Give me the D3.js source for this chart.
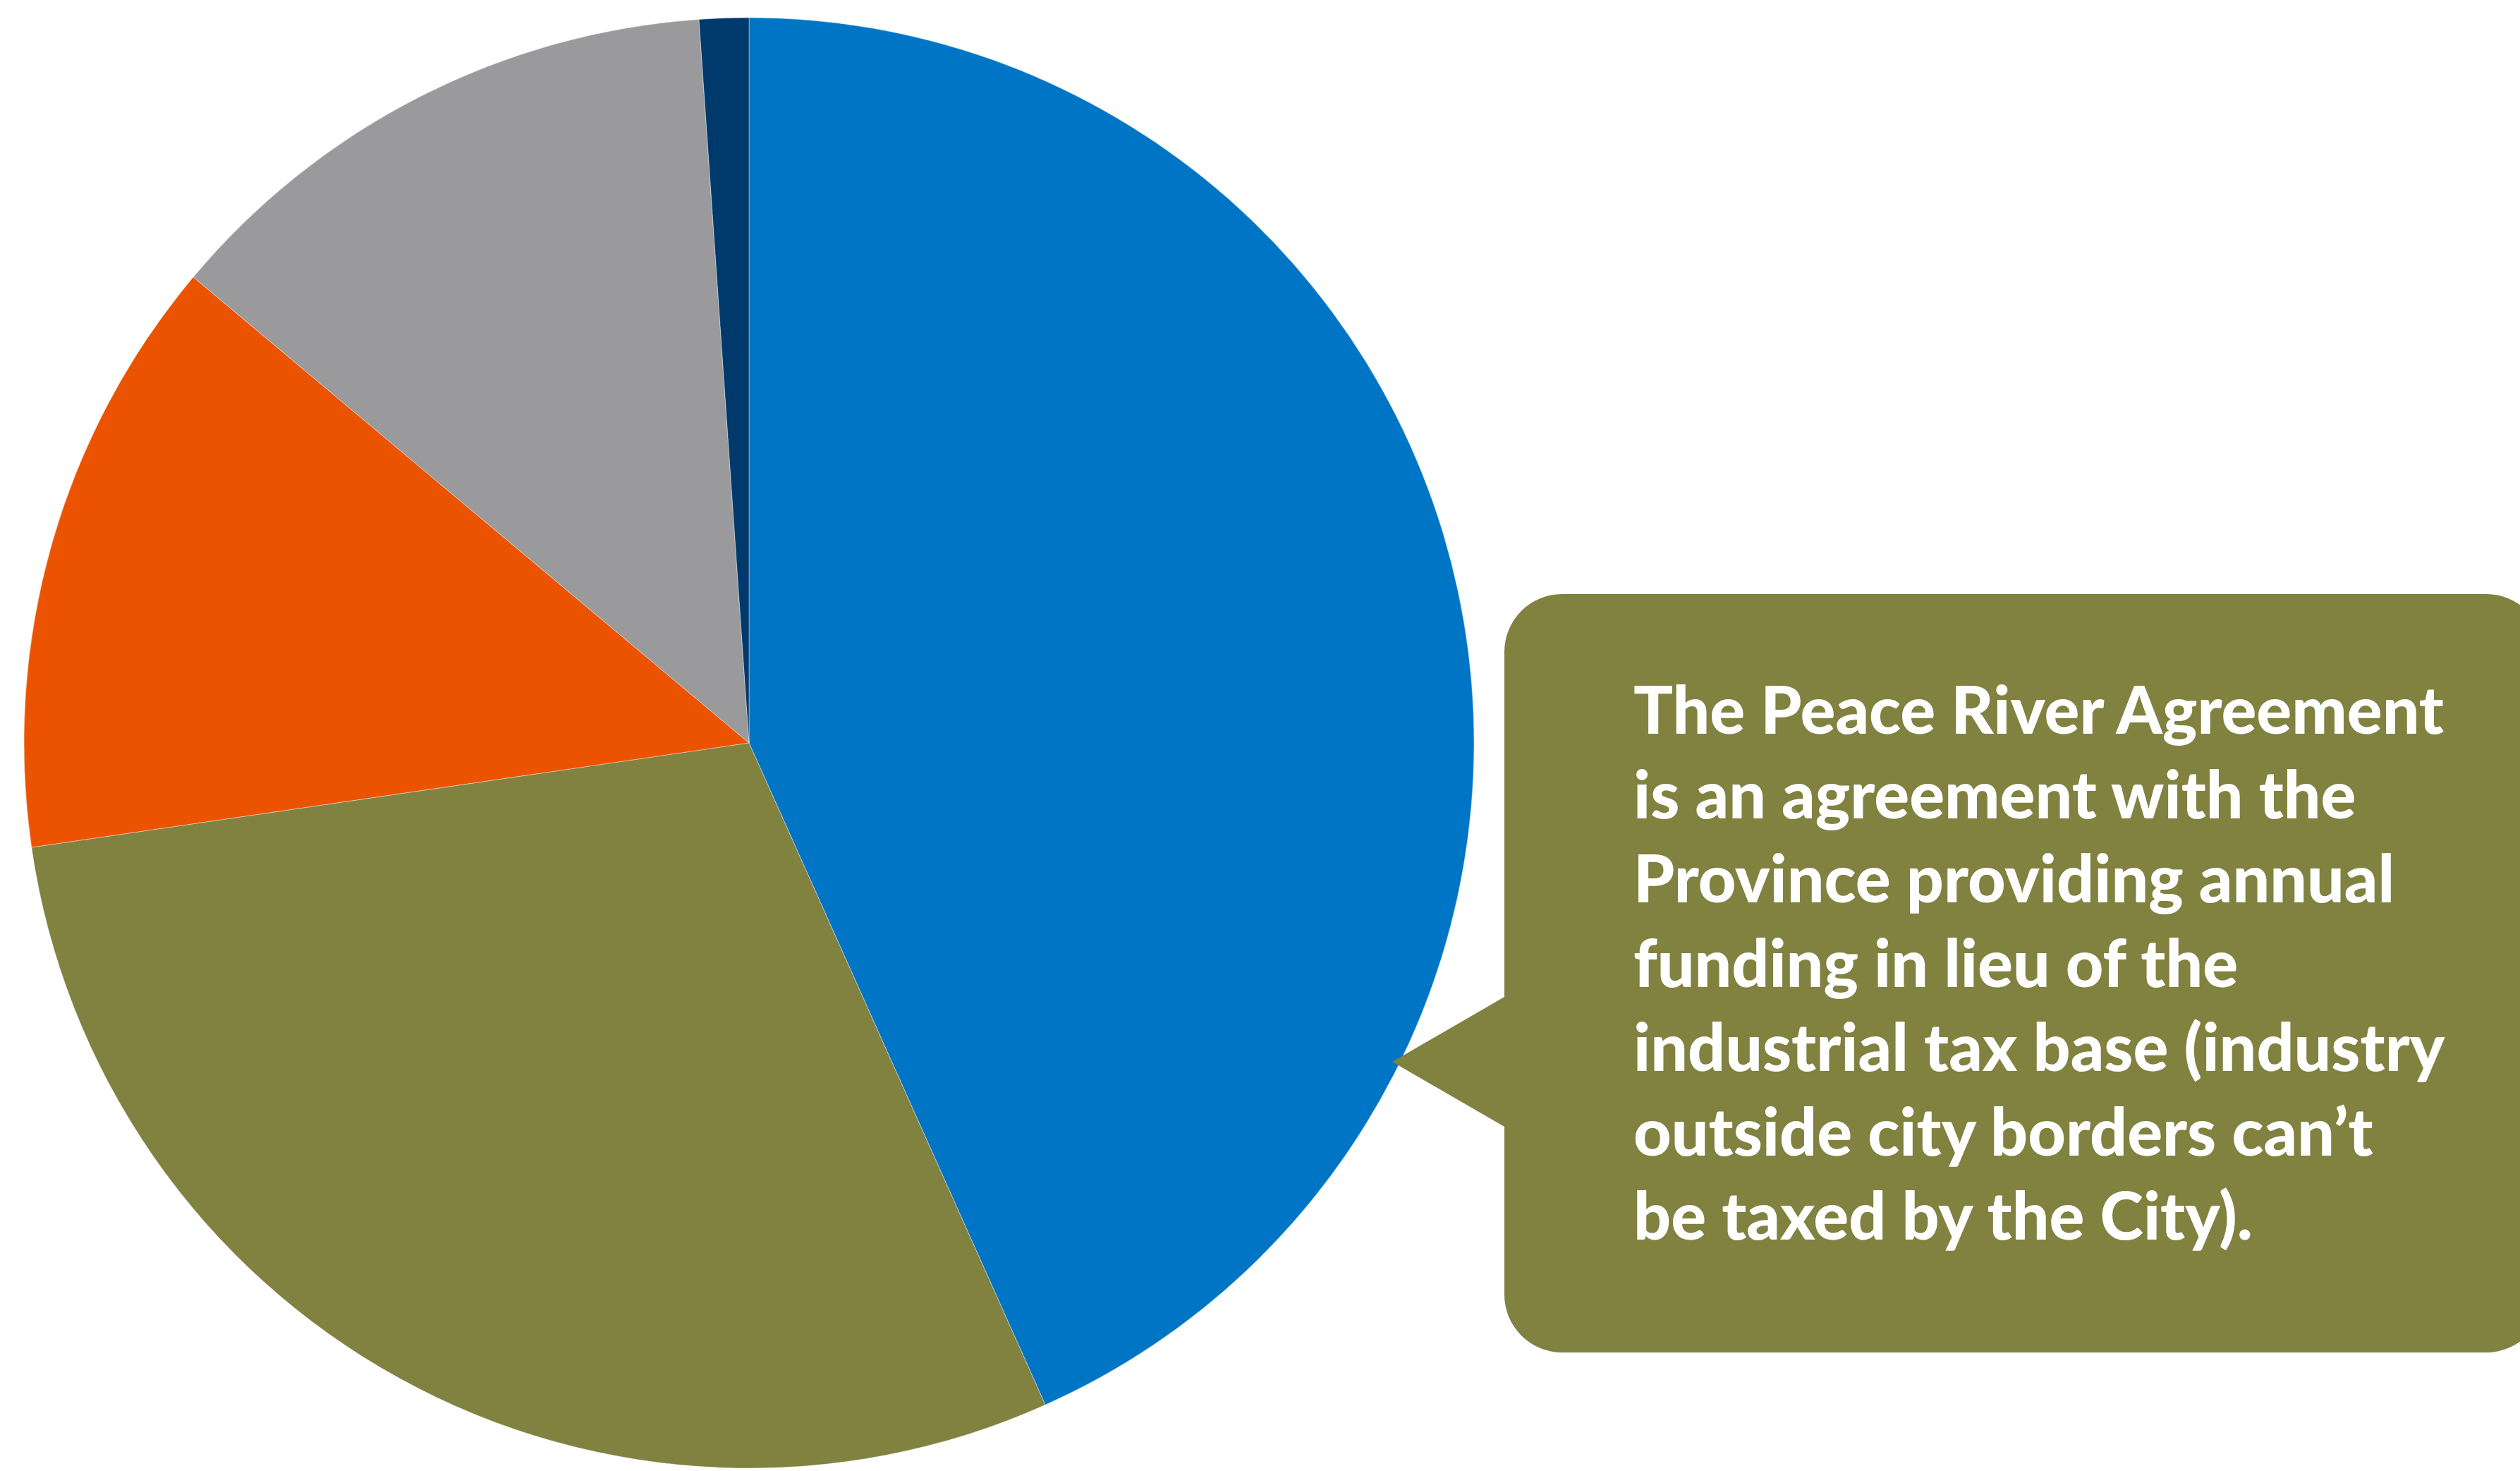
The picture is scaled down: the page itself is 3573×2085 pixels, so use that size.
<!DOCTYPE html>
<html>
<head>
<meta charset="utf-8">
<title>Revenue sources</title>
<script src="https://d3js.org/d3.v7.min.js"></script>
<style>
  body { margin: 0; background: white; }
  .slice { stroke: #ffffff; stroke-width: 1px; stroke-opacity: 0.4; }
  .note { fill: white; font-family: Lato, "Open Sans", sans-serif; font-weight: 900; }
</style>
</head>
<body>
<svg id="chart" width="3573" height="2085"></svg>
<script>
  // slice shares (percent), clockwise from 12 o'clock
  const categories = ["Property Taxation", "Peace River Agreement", "Sales of Services", "Grants", "Other"];
  const shares = [43.3, 29.4, 13.4, 12.8, 1.1];
  const colors = ["#0075c5", "#818140", "#ec5300", "#9a9a9c", "#003a6d"];
  const noteLines = [
    "The Peace River Agreement",
    "is an agreement with the",
    "Province providing annual",
    "funding in lieu of the",
    "industrial tax base (industry",
    "outside city borders can\u2019t",
    "be taxed by the City)."
  ];

  const svg = d3.select("#chart");
  const cx = 1062, cy = 1053, radius = 1028;

  const pie = d3.pie().sort(null).value(d => d);
  const arc = d3.arc().innerRadius(0).outerRadius(radius);
  const color = d3.scaleOrdinal().domain(categories).range(colors);

  const g = svg.append("g").attr("transform", "translate(" + cx + "," + cy + ")");
  g.selectAll("path.slice")
    .data(pie(shares))
    .join("path")
    .attr("class", "slice")
    .attr("note", (d, i) => categories[i])
    .attr("fill", (d, i) => color(categories[i]))
    .attr("d", arc);

  // callout box with pointer toward the pie
  const box = { x0: 2133, y0: 842, x1: 3607, y1: 1917, r: 82 };
  const tip = { x: 1974, y: 1505, top: 1413, bottom: 1597 };
  const p = d3.path();
  p.moveTo(box.x0 + box.r, box.y0);
  p.lineTo(box.x1 - box.r, box.y0);
  p.arcTo(box.x1, box.y0, box.x1, box.y0 + box.r, box.r);
  p.lineTo(box.x1, box.y1 - box.r);
  p.arcTo(box.x1, box.y1, box.x1 - box.r, box.y1, box.r);
  p.lineTo(box.x0 + box.r, box.y1);
  p.arcTo(box.x0, box.y1, box.x0, box.y1 - box.r, box.r);
  p.lineTo(box.x0, tip.bottom);
  p.lineTo(tip.x, tip.y);
  p.lineTo(box.x0, tip.top);
  p.lineTo(box.x0, box.y0 + box.r);
  p.arcTo(box.x0, box.y0, box.x0 + box.r, box.y0, box.r);
  p.closePath();
  svg.append("path").attr("d", p.toString()).attr("fill", "#818140");

  const text = svg.append("text").attr("class", "note").attr("font-size", 100);
  text.selectAll("tspan")
    .data(noteLines)
    .join("tspan")
    .attr("x", 2316)
    .attr("y", (d, i) => 1040 + i * 119.5)
    .text(d => d);

  // size the font so the first line spans like the original
  const firstLen = text.select("tspan").node().getComputedTextLength();
  text.attr("font-size", 100 * 1149 / firstLen);
</script>
</body>
</html>
